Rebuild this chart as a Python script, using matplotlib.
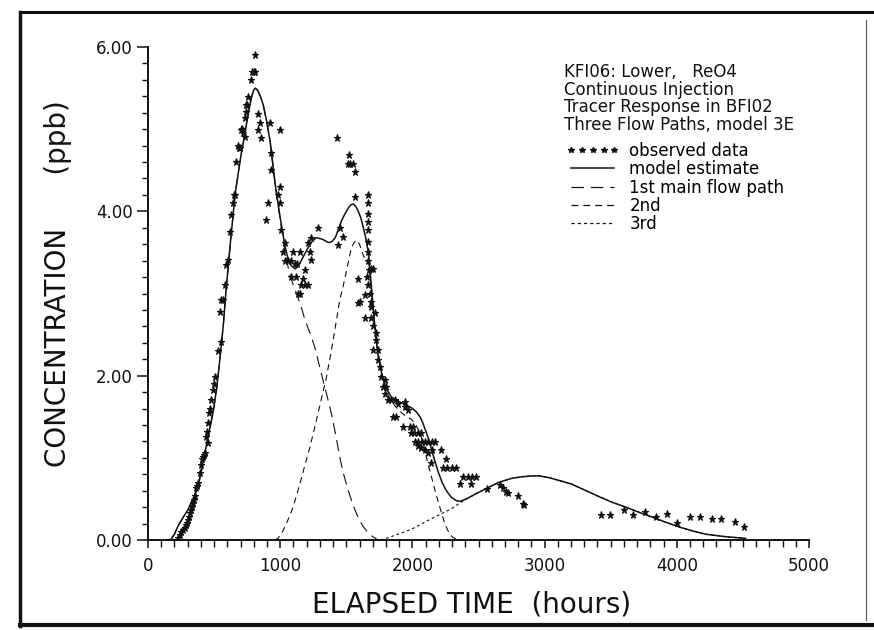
import matplotlib
matplotlib.use("Agg")
import matplotlib.pyplot as plt
from matplotlib.lines import Line2D
from matplotlib.ticker import MultipleLocator

plt.rcParams["font.family"] = ["DejaVu Sans"]

# observed tracer concentrations (hours, ppb)
obs_time = [227, 242, 250, 265, 280, 288, 295, 303, 310, 318, 325, 333, 340, 348, 355,
            363, 370, 378, 393, 401, 409, 416, 424, 431, 439, 446, 454, 454, 462, 469,
            477, 492, 500, 507, 530, 545, 552, 552, 567, 580, 593, 602, 617, 630, 640,
            648, 655, 667, 680, 685, 695, 706, 712, 720, 732, 732, 740, 740, 748, 756,
            780, 790, 800, 810, 807,
            832, 846, 832, 855, 921, 1000, 933, 933, 1000, 985, 1000, 910, 895, 1008,
            1038, 1021, 1038, 1060, 1084, 1097, 1150, 1114, 1130, 1083, 1120, 1186,
            1173, 1159, 1185, 1210, 1148, 1135, 1212, 1235, 1223, 1288, 1235,
            1432, 1522, 1513, 1530, 1550, 1563, 1568, 1437, 1475, 1450,
            1664, 1664, 1664, 1664, 1664, 1664, 1664, 1664, 1672, 1687, 1700, 1588,
            1660, 1665, 1680, 1690, 1640, 1603, 1588, 1640, 1690, 1690, 1715, 1700,
            1725, 1725, 1700, 1740, 1740, 1755, 1762, 1790, 1777, 1800, 1790, 1815,
            1838, 1866, 1891, 1853, 1876, 1944, 1967, 1944, 1929, 1982, 2005, 1990,
            2015, 2040, 2068, 2020, 2045, 2070, 2095, 2120, 2145, 2170, 2040, 2065,
            2096, 2118, 2150, 2218, 2144, 2255, 2232, 2265, 2298, 2331, 2384, 2420,
            2450, 2483, 2358, 2446, 2566, 2664, 2687, 2710, 2725, 2800, 2838, 2846,
            3430, 3497, 3604, 3672, 3760, 3839, 3929, 4005, 4102, 4178, 4268, 4336,
            4442, 4510]
obs_conc = [0.02, 0.06, 0.10, 0.12, 0.15, 0.18, 0.21, 0.24, 0.28, 0.33, 0.36, 0.40, 0.45, 0.49, 0.53,
            0.63, 0.66, 0.69, 0.81, 0.91, 0.98, 1.01, 1.03, 1.06, 1.25, 1.32, 1.42, 1.18, 1.55, 1.60,
            1.70, 1.82, 1.90, 1.98, 2.30, 2.78, 2.41, 2.92, 2.92, 3.10, 3.35, 3.41, 3.75, 3.95, 4.10,
            4.20, 4.20, 4.60, 4.80, 4.77, 4.77, 4.99, 5.00, 4.95, 4.90, 5.13, 5.21, 5.29, 5.30, 5.39,
            5.60, 5.70, 5.70, 5.70, 5.90,
            5.19, 5.08, 4.99, 4.89, 5.08, 4.99, 4.71, 4.50, 4.30, 4.20, 4.10, 4.10, 3.89, 3.77,
            3.61, 3.50, 3.40, 3.40, 3.40, 3.50, 3.50, 3.36, 3.36, 3.20, 3.20, 3.28,
            3.18, 3.10, 3.10, 3.10, 3.00, 3.00, 3.61, 3.67, 3.50, 3.80, 3.41,
            4.89, 4.68, 4.58, 4.58, 4.58, 4.48, 4.17, 3.59, 3.69, 3.80,
            4.20, 4.10, 3.97, 3.87, 3.77, 3.63, 3.50, 3.40, 3.28, 3.30, 3.30, 3.18,
            3.20, 3.10, 3.00, 2.90, 2.98, 2.90, 2.88, 2.70, 2.84, 2.70, 2.76, 2.60,
            2.52, 2.43, 2.31, 2.31, 2.19, 2.11, 1.98, 1.95, 1.86, 1.86, 1.78, 1.70,
            1.70, 1.70, 1.66, 1.50, 1.50, 1.62, 1.58, 1.68, 1.38, 1.38, 1.38, 1.30,
            1.30, 1.30, 1.30, 1.19, 1.19, 1.19, 1.19, 1.19, 1.19, 1.19, 1.15, 1.12,
            1.10, 1.06, 1.10, 1.10, 0.94, 0.98, 0.88, 0.88, 0.88, 0.88, 0.77, 0.77,
            0.77, 0.77, 0.68, 0.68, 0.62, 0.67, 0.63, 0.59, 0.57, 0.53, 0.44, 0.42,
            0.30, 0.30, 0.37, 0.30, 0.34, 0.28, 0.32, 0.21, 0.28, 0.28, 0.25, 0.25,
            0.22, 0.16]

# model estimate (sum of three flow paths)
model_time = [170, 200, 227, 260, 303, 340, 379, 405, 430, 460, 492, 520, 545, 570, 591,
              625, 659, 700, 735, 760, 780, 798, 812, 830, 850, 871, 897, 924, 962, 1000,
              1038, 1060, 1083, 1114, 1135, 1159, 1185, 1212, 1240, 1273, 1320, 1364, 1390,
              1417, 1440, 1462, 1490, 1515, 1535, 1553, 1572, 1591, 1610, 1629, 1648, 1667,
              1689, 1710, 1735, 1760, 1780, 1810, 1841, 1880, 1917, 1955, 1992, 2030, 2061,
              2080, 2098, 2120, 2144, 2170, 2197, 2225, 2250, 2275, 2295, 2330, 2364, 2420,
              2477, 2576, 2652, 2750, 2830, 2902, 2960, 3030, 3120, 3205, 3300, 3409, 3510,
              3614, 3710, 3811, 3910, 4015, 4120, 4220, 4370, 4520]
model_conc = [0.00, 0.07, 0.17, 0.26, 0.37, 0.50, 0.65, 0.85, 1.06, 1.30, 1.55, 1.85, 2.22, 2.62, 3.05,
              3.65, 4.21, 4.65, 4.97, 5.20, 5.37, 5.47, 5.50, 5.47, 5.40, 5.30, 5.10, 4.85, 4.33, 3.92,
              3.56, 3.42, 3.34, 3.30, 3.33, 3.40, 3.48, 3.56, 3.63, 3.68, 3.66, 3.62, 3.63,
              3.68, 3.78, 3.88, 3.97, 4.04, 4.08, 4.09, 4.06, 4.00, 3.92, 3.80, 3.67, 3.50,
              3.10, 2.70, 2.32, 2.08, 1.95, 1.82, 1.74, 1.70, 1.67, 1.64, 1.61, 1.56, 1.49,
              1.42, 1.34, 1.24, 1.11, 0.96, 0.82, 0.70, 0.62, 0.56, 0.52, 0.48, 0.47, 0.51,
              0.56, 0.64, 0.70, 0.75, 0.77, 0.78, 0.78, 0.76, 0.72, 0.68, 0.61, 0.53, 0.46,
              0.40, 0.34, 0.28, 0.22, 0.16, 0.11, 0.07, 0.04, 0.02]

# 1st main flow path
path1_time = [170, 200, 227, 260, 303, 340, 379, 405, 430, 460, 492, 520, 545, 570, 591,
              625, 659, 700, 735, 760, 780, 798, 812, 830, 850, 871, 897, 924, 962, 1000,
              1038, 1070, 1100, 1130, 1160, 1187, 1225, 1261, 1295, 1323, 1355, 1387, 1420,
              1450, 1480, 1513, 1550, 1588, 1625, 1664, 1700, 1740]
path1_conc = [0.00, 0.07, 0.17, 0.26, 0.37, 0.50, 0.65, 0.85, 1.06, 1.30, 1.55, 1.85, 2.22, 2.62, 3.05,
              3.65, 4.21, 4.65, 4.97, 5.20, 5.37, 5.47, 5.50, 5.47, 5.40, 5.30, 5.10, 4.85, 4.32, 3.90,
              3.50, 3.24, 3.10, 2.97, 2.83, 2.68, 2.52, 2.35, 2.13, 1.95, 1.75, 1.54, 1.28,
              1.01, 0.80, 0.61, 0.43, 0.28, 0.17, 0.09, 0.04, 0.00]

# 2nd flow path
path2_time = [960, 983, 1010, 1036, 1065, 1097, 1127, 1157, 1190, 1225, 1255, 1286, 1316, 1346,
              1375, 1400, 1425, 1450, 1475, 1498, 1520, 1538, 1558, 1578, 1600, 1620, 1640, 1667,
              1689, 1710, 1735, 1760, 1780, 1810, 1841, 1880, 1917, 1955, 1992, 2030, 2061, 2090,
              2118, 2144, 2170, 2194, 2220, 2245, 2270, 2300, 2330, 2360]
path2_conc = [0.00, 0.02, 0.08, 0.16, 0.27, 0.40, 0.56, 0.73, 0.93, 1.13, 1.33, 1.54, 1.75, 1.95,
              2.20, 2.43, 2.67, 2.92, 3.08, 3.25, 3.42, 3.55, 3.62, 3.65, 3.60, 3.50, 3.42, 3.41,
              3.05, 2.67, 2.30, 2.05, 1.92, 1.78, 1.69, 1.61, 1.55, 1.50, 1.47, 1.39, 1.29, 1.12,
              0.92, 0.77, 0.61, 0.47, 0.33, 0.20, 0.11, 0.04, 0.01, 0.00]

# 3rd flow path
path3_time = [1760, 1800, 1838, 1891, 1944, 1990, 2040, 2096, 2145, 2194, 2245, 2295, 2330, 2360,
              2400, 2477, 2576, 2652, 2750, 2830, 2902, 2960, 3030, 3120, 3205, 3300, 3409, 3510,
              3614, 3710, 3811, 3910, 4015, 4120, 4220, 4370, 4520]
path3_conc = [0.00, 0.02, 0.04, 0.07, 0.10, 0.13, 0.17, 0.22, 0.26, 0.30, 0.34, 0.38, 0.42, 0.45,
              0.49, 0.56, 0.64, 0.70, 0.75, 0.77, 0.78, 0.78, 0.76, 0.72, 0.68, 0.61, 0.53, 0.46,
              0.40, 0.34, 0.28, 0.22, 0.16, 0.11, 0.07, 0.04, 0.02]

title_lines = ["KFI06: Lower,   ReO4", "Continuous Injection",
               "Tracer Response in BFI02", "Three Flow Paths, model 3E"]
legend_labels = ["observed data", "model estimate", "1st main flow path", "2nd", "3rd"]

W, H = 874, 630
fig = plt.figure(figsize=(W / 100, H / 100), dpi=100)
ax = fig.add_axes([148 / W, 1 - 540 / H, (809 - 148) / W, (540 - 47) / H])

ink = "#111111"
ax.plot(obs_time, obs_conc, ls="none", marker="*", ms=5.2, mew=0.8, color=ink, mec=ink)
ax.plot(model_time, model_conc, color=ink, lw=1.1)
ax.plot(path1_time, path1_conc, color=ink, lw=0.8, dashes=(10, 5.5))
ax.plot(path2_time, path2_conc, color=ink, lw=0.8, dashes=(5.5, 4))
ax.plot(path3_time, path3_conc, color=ink, lw=0.8, dashes=(2.5, 2.5))

ax.set_xlim(0, 5000)
ax.set_ylim(0, 6)
for s in ["top", "right"]:
    ax.spines[s].set_visible(False)
for s in ["left", "bottom"]:
    ax.spines[s].set_linewidth(1.4)
    ax.spines[s].set_color(ink)

ax.xaxis.set_major_locator(MultipleLocator(1000))
ax.xaxis.set_minor_locator(MultipleLocator(100))
ax.yaxis.set_major_locator(MultipleLocator(2))
ax.yaxis.set_minor_locator(MultipleLocator(0.2))
ax.yaxis.set_major_formatter(lambda v, p: f"{v:.2f}")
ax.tick_params(axis="x", which="major", length=5.5, width=1.1, pad=7, labelsize=12, colors=ink)
ax.tick_params(axis="x", which="minor", length=5, width=1.0, colors=ink)
ax.tick_params(axis="y", which="major", length=8, width=1.1, pad=3, labelsize=12, colors=ink)
ax.tick_params(axis="y", which="minor", length=4.5, width=1.0, colors=ink)

ax.set_xlabel("ELAPSED TIME  (hours)", fontsize=20, color=ink)
ax.set_ylabel("CONCENTRATION      (ppb)", fontsize=20, color=ink)
ax.xaxis.set_label_coords(0.49, -0.102)
ax.yaxis.set_label_coords(-0.115, 0.52)

for i, line in enumerate(title_lines):
    fig.text(564 / W, 1 - (72 + i * 17.6) / H, line, fontsize=12, color=ink,
             ha="left", va="center")

handles = [
    Line2D([], [], ls="none", marker="*", ms=4, color=ink),
    Line2D([], [], color=ink, lw=1.1),
    Line2D([], [], color=ink, lw=0.9, dashes=(10, 5.5)),
    Line2D([], [], color=ink, lw=0.9, dashes=(5.5, 4)),
    Line2D([], [], color=ink, lw=0.9, dashes=(2.5, 2.5)),
]
fig.legend(handles, legend_labels, loc="upper left", bbox_to_anchor=(566 / W, 1 - 142 / H),
           bbox_transform=fig.transFigure, frameon=False, fontsize=12, numpoints=5,
           handlelength=3.2, handletextpad=0.6, labelspacing=0.02, borderpad=0,
           borderaxespad=0)

# scanned page frame
fig.add_artist(Line2D([20 / W, 20 / W], [1 - 12 / H, 1 - 626 / H], color=ink, lw=2.5,
                      transform=fig.transFigure))
fig.add_artist(Line2D([20 / W, 1.0], [1 - 12 / H, 1 - 12 / H], color=ink, lw=2.2,
                      transform=fig.transFigure))
fig.add_artist(Line2D([20 / W, 1.0], [1 - 625 / H, 1 - 625 / H], color=ink, lw=3,
                      transform=fig.transFigure))
fig.add_artist(Line2D([866 / W, 866 / W], [1 - 20 / H, 1 - 620 / H], color="#555555", lw=0.8,
                      transform=fig.transFigure))

fig.savefig("out.png", dpi=100)
